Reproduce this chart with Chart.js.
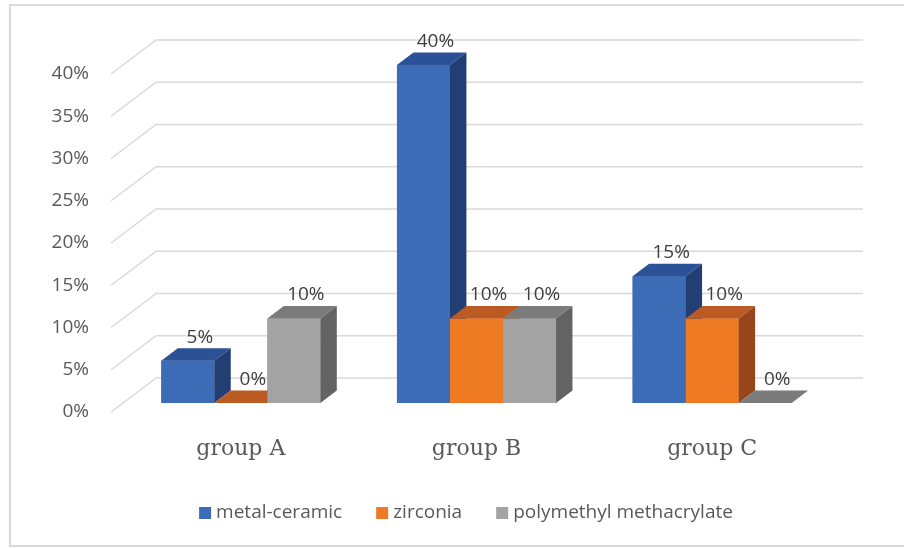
<!DOCTYPE html>
<html>
<head>
<meta charset="utf-8">
<script src="https://cdn.jsdelivr.net/npm/chart.js@4.4.0/dist/chart.umd.min.js"></script>
<style>
  html, body { margin: 0; padding: 0; background: #fff; }
</style>
</head>
<body>
<canvas id="barChart" width="904" height="548"></canvas>
<script>
const groups = ["group A", "group B", "group C"];
const seriesNames = ["metal-ceramic", "zirconia", "polymethyl methacrylate"];
const metalCeramic = [5, 40, 15];
const zirconia = [0, 10, 10];
const polymethyl = [10, 10, 0];
const yTicks = [0, 5, 10, 15, 20, 25, 30, 35, 40];

// shades for the three visible faces of each box
const frontColors = ["#3d6cb6", "#ee7b24", "#a3a3a3"];
const topColors = ["#2b5296", "#bb5a22", "#7b7b7b"];
const sideColors = ["#223e72", "#97451b", "#636363"];

// wall depth (DX, DY); boxes occupy depth T0..T1 of it
const DX = 45, DY = -34, T0 = 0.265, T1 = 0.63;
const SANS = "'Open Sans', sans-serif";
const TEXT = "#595959";

const frame = {
  id: "frame",
  beforeDraw(chart) {
    const ctx = chart.ctx;
    ctx.save();
    ctx.strokeStyle = "#d9d9d9";
    ctx.lineWidth = 2;
    ctx.strokeRect(10, 5, 900, 541);
    ctx.restore();
  },
};

const walls = {
  id: "walls",
  beforeDatasetsDraw(chart) {
    const { ctx, chartArea: a } = chart;
    const y = chart.scales.y;
    ctx.save();
    ctx.strokeStyle = "#d9d9d9";
    ctx.lineWidth = 1.5;
    yTicks.forEach((v) => {
      const py = y.getPixelForValue(v);
      ctx.beginPath();
      ctx.moveTo(a.left - T0 * DX, py - T0 * DY);
      ctx.lineTo(a.left + (1 - T0) * DX, py + (1 - T0) * DY);
      ctx.lineTo(a.right + (1 - T0) * DX, py + (1 - T0) * DY);
      ctx.stroke();
    });
    ctx.restore();
  },
};

const boxes = {
  id: "boxes",
  afterDatasetsDraw(chart) {
    const ctx = chart.ctx;
    const bx = (T1 - T0) * DX;
    const by = (T1 - T0) * DY;
    ctx.save();
    // draw group by group so later bars overlap the side of earlier ones
    groups.forEach((g, i) => {
      chart.data.datasets.forEach((ds, d) => {
        const bar = chart.getDatasetMeta(d).data[i];
        const l = bar.x - bar.width / 2;
        const r = bar.x + bar.width / 2;
        const t = bar.y;
        const b = bar.base;
        ctx.fillStyle = frontColors[d];
        ctx.fillRect(l, t, r - l, b - t);
        ctx.fillStyle = topColors[d];
        ctx.beginPath();
        ctx.moveTo(l, t);
        ctx.lineTo(l + bx, t + by);
        ctx.lineTo(r + bx, t + by);
        ctx.lineTo(r, t);
        ctx.closePath();
        ctx.fill();
        ctx.fillStyle = sideColors[d];
        ctx.beginPath();
        ctx.moveTo(r, t);
        ctx.lineTo(r + bx, t + by);
        ctx.lineTo(r + bx, b + by);
        ctx.lineTo(r, b);
        ctx.closePath();
        ctx.fill();
      });
    });
    // value labels
    ctx.font = "19px " + SANS;
    ctx.fillStyle = "#404040";
    ctx.textAlign = "center";
    ctx.textBaseline = "middle";
    chart.data.datasets.forEach((ds, d) => {
      chart.getDatasetMeta(d).data.forEach((bar, i) => {
        ctx.fillText(ds.data[i] + "%", bar.x + bx * 0.73, bar.y + by - 11);
      });
    });
    ctx.restore();
  },
};

const legendRow = {
  id: "legendRow",
  afterDraw(chart) {
    const ctx = chart.ctx;
    ctx.save();
    ctx.font = "19px " + SANS;
    ctx.textBaseline = "middle";
    const box = 12, gapText = 5, gapItem = 34;
    const widths = seriesNames.map((n) => box + gapText + ctx.measureText(n).width);
    const total = widths.reduce((s, w) => s + w, 0) + gapItem * (widths.length - 1);
    let x = 466 - total / 2;
    const cy = 513;
    seriesNames.forEach((n, d) => {
      ctx.fillStyle = frontColors[d];
      ctx.fillRect(x, cy - box / 2, box, box);
      ctx.fillStyle = TEXT;
      ctx.fillText(n, x + box + gapText, cy);
      x += widths[d] + gapItem;
    });
    ctx.restore();
  },
};

new Chart(document.getElementById("barChart"), {
  type: "bar",
  data: {
    labels: groups,
    datasets: [
      { label: seriesNames[0], data: metalCeramic, backgroundColor: frontColors[0] },
      { label: seriesNames[1], data: zirconia, backgroundColor: frontColors[1] },
      { label: seriesNames[2], data: polymethyl, backgroundColor: frontColors[2] },
    ],
  },
  options: {
    responsive: false,
    animation: false,
    layout: { padding: { top: 65, right: 74, bottom: 0, left: 0 } },
    datasets: {
      bar: { categoryPercentage: 0.675, barPercentage: 1 },
    },
    plugins: {
      legend: { display: false },
      tooltip: { enabled: false },
    },
    scales: {
      x: {
        grid: { display: false, drawTicks: false },
        border: { display: false },
        ticks: {
          color: TEXT,
          padding: 33,
          font: { family: "'DejaVu Serif', serif", size: 22 },
        },
        afterFit: (scale) => { scale.height = 145; },
      },
      y: {
        min: 0,
        max: 40,
        grid: { display: false, drawTicks: false },
        border: { display: false },
        ticks: {
          stepSize: 5,
          color: TEXT,
          padding: 34,
          labelOffset: 9,
          font: { family: SANS, size: 19 },
          callback: (v) => v + "%",
        },
        afterFit: (scale) => { scale.width = 123; },
      },
    },
  },
  plugins: [frame, walls, boxes, legendRow],
});
</script>
</body>
</html>
